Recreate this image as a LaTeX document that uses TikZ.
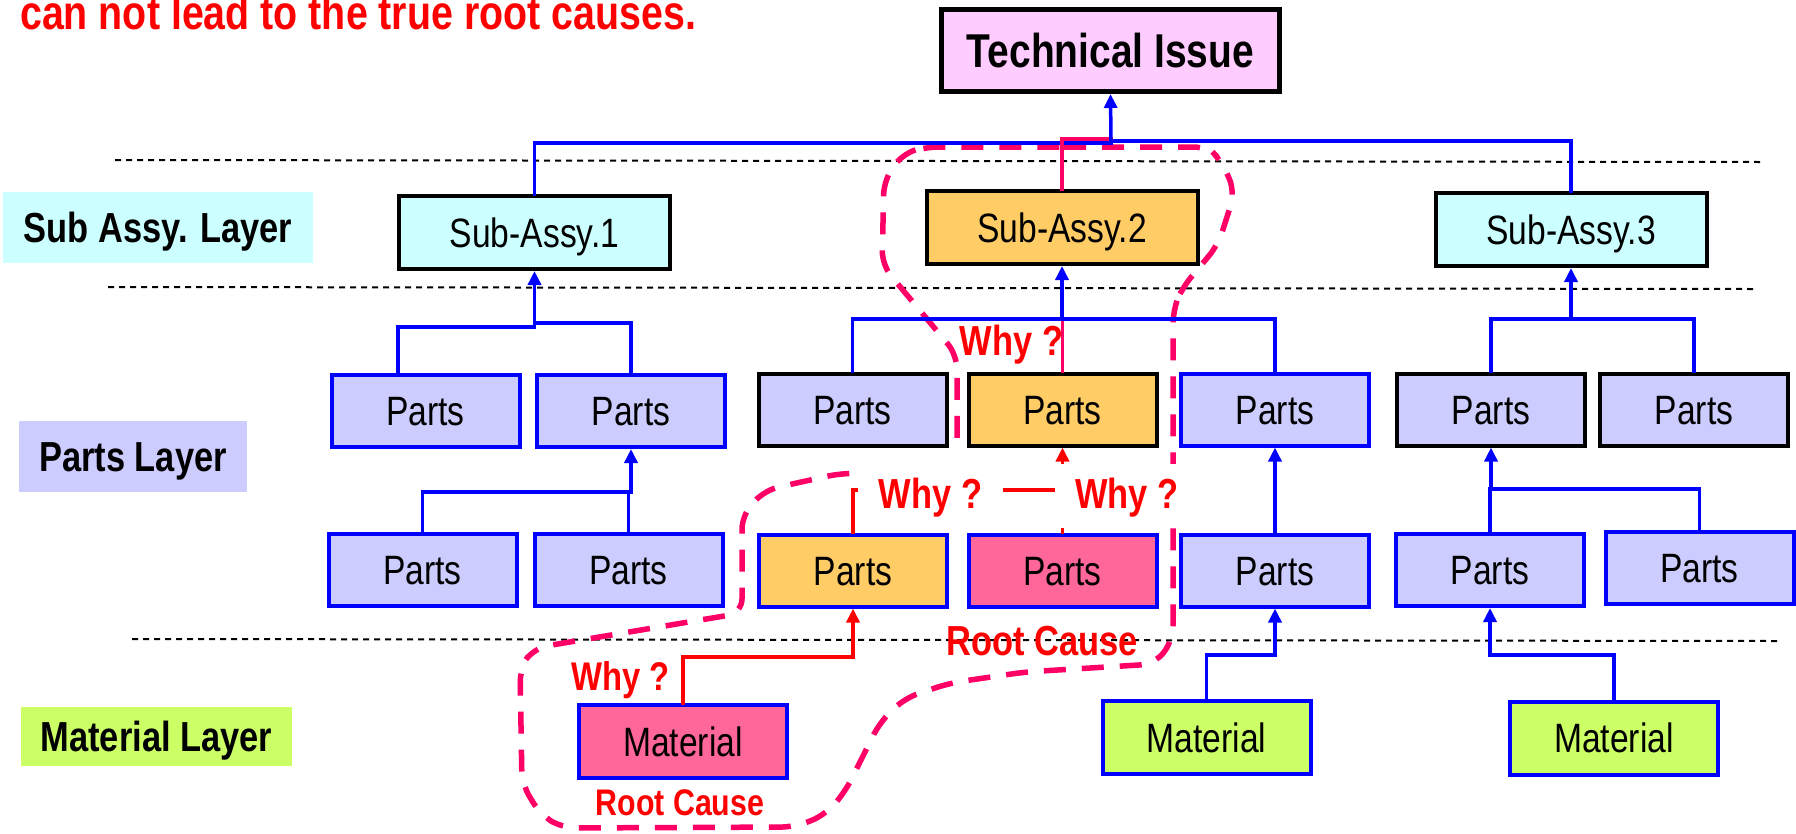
\documentclass[tikz,border=0pt]{standalone}
\usepackage{fontspec}
\setmainfont[FakeStretch=0.82]{Liberation Sans}
\usetikzlibrary{arrows.meta}
\definecolor{cyanfill}{HTML}{CCFFFF}
\definecolor{lavfill}{HTML}{CCCCFF}
\definecolor{orafill}{HTML}{FFCC66}
\definecolor{rootfill}{HTML}{FF6699}
\definecolor{matfill}{HTML}{CCFF66}
\definecolor{tifill}{HTML}{FFCCFF}
\definecolor{outl}{HTML}{FF0066}
\definecolor{blu}{HTML}{0000FF}
\definecolor{rd}{HTML}{FF0000}
\begin{document}
\begin{tikzpicture}[x=1pt,y=-1pt,
  box/.style={draw, line width=4pt, inner sep=0pt, text height=29pt, text depth=0pt, font=\fontsize{41}{41}\selectfont},
  sub/.style={box, draw=black, minimum width=271pt, minimum height=73pt},
  part/.style={box, minimum width=188pt, minimum height=72pt, fill=lavfill},
  bpart/.style={part, draw=blu},
  kpart/.style={part, draw=black},
  mat/.style={box, draw=blu, minimum width=208pt, minimum height=73pt},
  layerlbl/.style={inner sep=0pt, text height=30pt, text depth=0pt, font=\bfseries\fontsize{42}{42}\selectfont, minimum height=71pt},
  conn/.style={line width=3.5pt, blu, line cap=rect},
  rconn/.style={line width=3.5pt, rd, line cap=rect},
  pconn/.style={line width=3.5pt, outl, line cap=rect},
  arr/.style={-{Triangle[length=14pt,width=13pt]}},
  guide/.style={black, line width=2pt, dash pattern=on 6pt off 5pt},
  why/.style={text=rd, inner sep=0pt, anchor=base, font=\bfseries\fontsize{42}{42}\selectfont},
  outline/.style={outl, line width=5.5pt, dash pattern=on 22pt off 16pt, rounded corners=14pt}
]
\useasboundingbox (0,0) rectangle (1796,833);
\clip (0,0) rectangle (1796,833);

% layer guide lines
\draw[guide] (115,160) -- (1761,162);
\draw[guide] (108,287) -- (1753,289);
\draw[guide] (132,639) -- (1778,641);

% outline of the why-why chain
\draw[outline] (1050,147) -- (1208,147) -- (1222,162) -- (1235,192) -- (1218,245) -- (1182,288) -- (1173,310)
  -- (1173,640) -- (1155,664) -- (1025,672) -- (950,683) -- (905,698) -- (880,722) -- (845,792) -- (825,815)
  -- (795,827) -- (562,828) -- (540,814) -- (522,784) -- (520,668) -- (534,648) -- (742,613) -- (742,515)
  -- (765,490) -- (842,473) -- (935,476) -- (957,455) -- (957,355) -- (882,265) -- (884,180) -- (902,154)
  -- (925,147) -- cycle;

% nodes
\node[draw=black, line width=5pt, fill=tifill, minimum width=338pt, minimum height=82pt, inner sep=0pt,
      text height=34pt, text depth=0pt, font=\bfseries\fontsize{47.5}{48}\selectfont] (ti) at (1110.5,50.5) {Technical Issue};

\node[sub, fill=cyanfill] (sa1) at (534.5,232.5) {Sub-Assy.1};
\node[sub, fill=orafill] (sa2) at (1062,227.5) {Sub-Assy.2};
\node[sub, fill=cyanfill] (sa3) at (1571,229.5) {Sub-Assy.3};

\node[bpart] (p1a) at (425.5,411) {Parts};
\node[bpart] (p1b) at (631,411) {Parts};
\node[kpart] (p1c) at (852.5,409.5) {Parts};
\node[kpart, fill=orafill] (p1d) at (1062.5,409.5) {Parts};
\node[bpart] (p1e) at (1275,409.5) {Parts};
\node[kpart] (p1f) at (1491,409.5) {Parts};
\node[kpart] (p1g) at (1694,409.5) {Parts};

\node[bpart] (p2a) at (422.5,570) {Parts};
\node[bpart] (p2b) at (628.5,570) {Parts};
\node[bpart, fill=orafill] (p2c) at (853,570.5) {Parts};
\node[bpart, fill=rootfill] (p2d) at (1062.5,570.5) {Parts};
\node[bpart] (p2e) at (1275,570.5) {Parts};
\node[bpart] (p2f) at (1490,570) {Parts};
\node[bpart] (p2g) at (1699.5,567.5) {Parts};

\node[mat, fill=rootfill] (m1) at (683,741.5) {Material};
\node[mat, fill=matfill] (m2) at (1206.5,737.5) {Material};
\node[mat, fill=matfill] (m3) at (1614,738) {Material};

\node[layerlbl, fill=cyanfill, minimum width=310pt] (lsa) at (158,227.5) {Sub Assy. Layer};
\node[layerlbl, fill=lavfill, minimum width=228pt] (lp) at (133,456.5) {Parts Layer};
\node[layerlbl, fill=matfill, minimum width=271pt, minimum height=59pt] (lm) at (156.5,736.5) {Material Layer};

% connectors: sub-assemblies to technical issue
\coordinate (j0) at (1111,142);
\draw[conn] (sa1.north) |- (1111,143);
\draw[conn] (sa3.north) |- (1111,141);
\draw[pconn] (sa2.north) |- (1111,139);
\draw[conn, arr] (j0) -- (ti.south);

% parts row 1 to sub-assy 1
\coordinate (j1a) at (534.5,327);
\coordinate (j1b) at (534.5,323);
\draw[conn] ([xshift=-27.5pt]p1a.north) |- (j1a) -- (j1b) -| (p1b.north);
\draw[conn, arr] (j1b) -- (sa1.south);

% parts row 2 to parts row 1 (left)
\coordinate (j2) at (631,492);
\draw[conn] (p2a.north) |- (j2);
\draw[conn] (p2b.north) -- (p2b.north |- j2) -- (j2);
\draw[conn, arr] (j2) -- (p1b.south);

% parts row 1 to sub-assy 2
\coordinate (j3) at (1062,319);
\draw[conn] (p1c.north) |- (j3) -| (p1e.north);
\draw[pconn] (p1d.north) -- (p1d.north |- j3);
\draw[conn, arr] (j3) -- (sa2.south);

% parts row 1 to sub-assy 3
\coordinate (j4) at (1571,319);
\draw[conn] (p1f.north) |- (j4) -| (p1g.north);
\draw[conn, arr] (j4) -- (sa3.south);

% right parts
\draw[conn, arr] (p2e.north) -- (p1e.south);
\coordinate (j5) at (1491,489);
\draw[conn] (p2f.north) |- (j5) -| (p2g.north);
\draw[conn, arr] (j5) -- (p1f.south);

% materials
\coordinate (j6) at (1275,655);
\draw[conn] (m2.north) |- (j6);
\draw[conn, arr] (j6) -- (p2e.south);
\coordinate (j7) at (1490,655);
\draw[conn] (m3.north) |- (j7);
\draw[conn, arr] (j7) -- (p2f.south);

% red why-chain connectors
\coordinate (j8) at (853,657);
\draw[rconn] (m1.north) |- (j8);
\draw[rconn, arr] (j8) -- (p2c.south);
\coordinate (j9) at (1062.5,490);
\draw[rconn] (p2c.north) |- (j9);
\draw[rconn] (p2d.north) -- (j9);
\draw[rconn, arr] (j9) -- (p1d.south);

% labels
\node[why, anchor=base west, font=\bfseries\fontsize{48}{48}\selectfont] (toptext) at (20,29) {can not lead to the true root causes.};
\node[why] (w0) at (1011.5,355) {Why ?};
\node[why, fill=white, text height=60pt, text depth=20pt, inner xsep=21pt] (w1) at (930.5,508) {Why ?};
\node[why, fill=white, text height=44pt, text depth=20pt, inner xsep=20pt] (w2) at (1127,508) {Why ?};
\node[why, font=\bfseries\fontsize{40}{40}\selectfont] (w3) at (620.5,690) {Why ?};
\node[why] (rc1) at (1042,655) {Root Cause};
\node[why, font=\bfseries\fontsize{37}{37}\selectfont] (rc2) at (680,815) {Root Cause};
\end{tikzpicture}
\end{document}
